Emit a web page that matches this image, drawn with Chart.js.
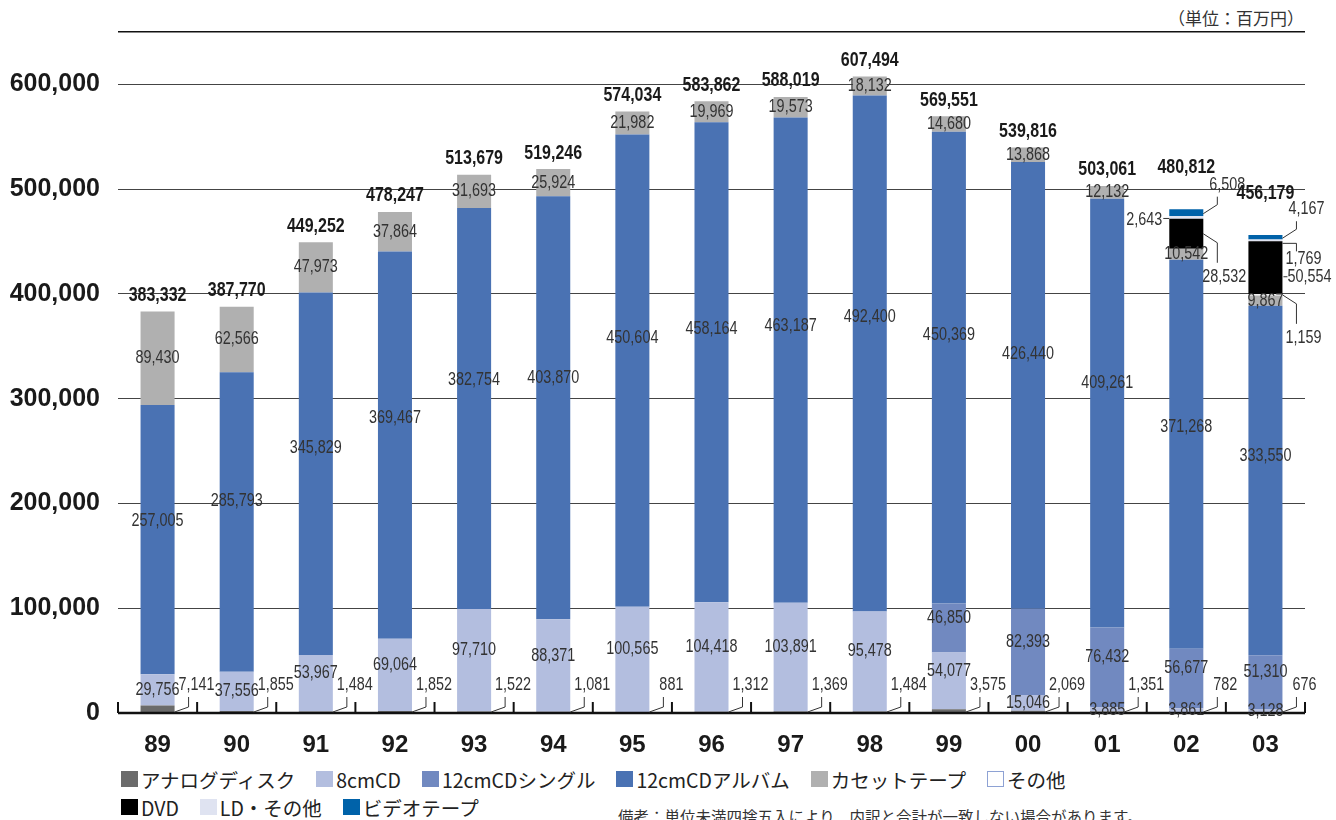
<!DOCTYPE html>
<html lang="ja">
<head>
<meta charset="utf-8">
<title>音楽ソフト生産金額の推移</title>
<script src="https://cdn.jsdelivr.net/npm/chart.js@4.4.1/dist/chart.umd.min.js"></script>
<style>
  body { margin:0; background:#fff; width:1336px; height:820px; overflow:hidden; position:relative;
         font-family:"Noto Sans CJK JP", sans-serif; color:#222; }
  #wrap { position:absolute; left:0; top:0; width:1336px; height:760px; }
  .unit { position:absolute; right:32px; top:5px; font-size:17px; color:#333; }
  .legend { position:absolute; left:121px; top:767px; }
  .lrow { display:flex; align-items:center; height:24px; margin-bottom:4px; }
  .item { display:flex; align-items:center; margin-right:21px; font-size:19.5px; white-space:nowrap; }
  .box { width:17px; height:16px; margin-right:3px; box-sizing:border-box; }
  .note { position:absolute; left:618px; top:805px; font-size:15.5px; color:#333; white-space:nowrap; }
</style>
</head>
<body>
<div class="unit">（単位：百万円）</div>
<div id="wrap"><canvas id="chart"></canvas></div>
<div class="legend" id="legend"></div>
<div class="note">備考：単位未満四捨五入により、内訳と合計が一致しない場合があります。</div>
<script>
// --- datos (百万円) ---
const YEARS    = ['89','90','91','92','93','94','95','96','97','98','99','00','01','02','03'];
const ANALOG   = [7141, 1855, 1484, 1852, 1522, 1081, 881, 1312, 1369, 1484, 3575, 2069, 1351, 782, 676];
const CD8      = [29756, 37556, 53967, 69064, 97710, 88371, 100565, 104418, 103891, 95478, 54077, 15046, 3885, 3861, 3128];
const CD12S    = [0, 0, 0, 0, 0, 0, 0, 0, 0, 0, 46850, 82393, 76432, 56677, 51310];
const CD12A    = [257005, 285793, 345829, 369467, 382754, 403870, 450604, 458164, 463187, 492400, 450369, 426440, 409261, 371268, 333550];
const CASSETTE = [89430, 62566, 47973, 37864, 31693, 25924, 21982, 19969, 19573, 18132, 14680, 13868, 12132, 10542, 9867];
const OTHER    = [0, 0, 0, 0, 0, 0, 0, 0, 0, 0, 0, 0, 0, 0, 1159];
const DVD      = [0, 0, 0, 0, 0, 0, 0, 0, 0, 0, 0, 0, 0, 28532, 50554];
const LD       = [0, 0, 0, 0, 0, 0, 0, 0, 0, 0, 0, 0, 0, 2643, 1769];
const VIDEO    = [0, 0, 0, 0, 0, 0, 0, 0, 0, 0, 0, 0, 0, 6508, 4167];
const TOTALS   = [383332, 387770, 449252, 478247, 513679, 519246, 574034, 583862, 588019, 607494, 569551, 539816, 503061, 480812, 456179];
const Y_TICKS  = [0, 100000, 200000, 300000, 400000, 500000, 600000];
const Y_MAX    = 650000;

// series: nombre, datos, color, tipo de etiqueta
const SERIES = [
  { name:'アナログディスク', data:ANALOG,   color:'#6b6b6b', kind:'analog' },
  { name:'8cmCD',          data:CD8,      color:'#b3bedf', kind:'inside', lift:10 },
  { name:'12cmCDシングル',   data:CD12S,    color:'#7189c0', kind:'inside', lift:10 },
  { name:'12cmCDアルバム',   data:CD12A,    color:'#4a72b3', kind:'inside', frac:0.57 },
  { name:'カセットテープ',     data:CASSETTE, color:'#b0b0b0', kind:'inside' },
  { name:'その他',           data:OTHER,    color:'#ffffff', kind:'callout', border:'#8ea2d4' },
  { name:'DVD',            data:DVD,      color:'#000000', kind:'callout' },
  { name:'LD・その他',        data:LD,       color:'#dfe3f1', kind:'callout' },
  { name:'ビデオテープ',       data:VIDEO,    color:'#0062a9', kind:'callout' },
];

// forma del rótulo con línea para las barras 02 (13) y 03 (14)
const CALLOUT_SHAPE = {
  'その他':      { 14:'down' },
  'DVD':        { 13:'down', 14:'right' },
  'LD・その他':   { 13:'left', 14:'hook' },
  'ビデオテープ':  { 13:'up',   14:'up' },
};

// no hay fuente "Narrow": se comprime Liberation Sans en horizontal
const NUM_FONT = '18px "Liberation Sans", Arial, sans-serif';
const SUM_FONT = 'bold 20px "Liberation Sans", Arial, sans-serif';
const SQUEEZE  = 0.8;
const fmt = v => v.toLocaleString('en-US');

function poly(ctx, pts){
  ctx.beginPath();
  ctx.moveTo(pts[0][0], pts[0][1]);
  for (let k = 1; k < pts.length; k++) ctx.lineTo(pts[k][0], pts[k][1]);
  ctx.stroke();
}

function narrowText(ctx, txt, x, y, align){
  ctx.save();
  ctx.translate(x, y);
  ctx.scale(SQUEEZE, 1);
  ctx.textAlign = align;
  ctx.fillText(txt, 0, 0);
  ctx.restore();
}

// eje x: línea gruesa y marcas entre categorías
const axisPlugin = {
  id:'baseAxis',
  afterDatasetsDraw(chart){
    const {ctx, chartArea, scales:{x, y}} = chart;
    const y0 = y.getPixelForValue(0);
    const step = x.getPixelForValue(1) - x.getPixelForValue(0);
    ctx.save();
    ctx.strokeStyle = '#111';
    ctx.lineWidth = 2.5;
    poly(ctx, [[chartArea.left, y0], [chartArea.right, y0]]);
    ctx.lineWidth = 2;
    for (let i = 0; i <= YEARS.length; i++) {
      const bx = x.getPixelForValue(i) - step / 2;
      poly(ctx, [[bx, y0], [bx, y0 - 11]]);
    }
    ctx.restore();
  }
};

// rótulos de segmentos y totales
const labelPlugin = {
  id:'segLabels',
  afterDatasetsDraw(chart){
    const {ctx, scales:{y}} = chart;
    const y0 = y.getPixelForValue(0);
    ctx.save();
    ctx.font = NUM_FONT;
    ctx.fillStyle = '#333';
    ctx.strokeStyle = '#333';
    ctx.lineWidth = 1;
    ctx.textBaseline = 'middle';
    chart.data.datasets.forEach((ds, di) => {
      const meta = chart.getDatasetMeta(di);
      meta.data.forEach((bar, i) => {
        const v = ds.data[i];
        if (!v) return;
        const p = bar.getProps(['x','y','base','width'], true);
        const R = p.x + p.width / 2, L = p.x - p.width / 2;
        const mid = (p.y + p.base) / 2;
        const txt = fmt(v);
        if (ds.kind === 'inside') {
          const h = p.base - p.y;
          let ly = p.base - h * (ds.frac || 0.5);
          if (ds.lift && h > 40) ly -= ds.lift;
          narrowText(ctx, txt, p.x, ly, 'center');
        } else if (ds.kind === 'analog') {
          poly(ctx, [[R, y0 - 1], [R + 14, y0 - 6], [R + 14, y0 - 16]]);
          narrowText(ctx, txt, R + 22, y0 - 28, 'center');
        } else {
          const shape = (CALLOUT_SHAPE[ds.label] || {})[i];
          if (shape === 'up') {
            poly(ctx, [[R, mid + 1], [R + 14, mid - 8], [R + 14, mid - 16]]);
            narrowText(ctx, txt, R + 24, mid - 28, 'center');
          } else if (shape === 'down') {
            poly(ctx, [[R, mid], [R + 14, mid + 9], [R + 14, mid + 29]]);
            narrowText(ctx, txt, R + 21, mid + 43, 'center');
          } else if (shape === 'left') {
            poly(ctx, [[L - 6, mid + 1], [L, mid + 1]]);
            narrowText(ctx, txt, L - 7, mid + 3, 'right');
          } else if (shape === 'right') {
            poly(ctx, [[R + 1, mid + 9], [R + 5, mid + 9]]);
            narrowText(ctx, txt, R + 5, mid + 9, 'left');
          } else if (shape === 'hook') {
            poly(ctx, [[R, mid + 3], [R + 14, mid + 3], [R + 14, mid + 11]]);
            narrowText(ctx, txt, R + 21, mid + 19, 'center');
          }
        }
      });
    });
    // totales encima de cada barra
    const xs = chart.scales.x;
    ctx.font = SUM_FONT;
    ctx.fillStyle = '#1a1a1a';
    TOTALS.forEach((t, i) => {
      const top = y.getPixelForValue(t);
      const off = VIDEO[i] ? 42 : 16;
      narrowText(ctx, fmt(t), xs.getPixelForValue(i), top - off, 'center');
    });
    ctx.restore();
  }
};

const ctx = document.getElementById('chart');
const chart = new Chart(ctx, {
  type:'bar',
  data:{
    labels: YEARS,
    datasets: SERIES.map(s => ({
      label: s.name,
      data: s.data,
      kind: s.kind,
      frac: s.frac,
      lift: s.lift,
      backgroundColor: s.color,
      borderWidth: 0,
      categoryPercentage: 1,
      barPercentage: 0.43,
    }))
  },
  options:{
    responsive:true,
    maintainAspectRatio:false,
    animation:false,
    layout:{ padding:{ left:0, right:31, top:32, bottom:7 } },
    plugins:{ legend:{ display:false }, tooltip:{ enabled:false } },
    scales:{
      x:{
        stacked:true,
        grid:{ display:false },
        border:{ display:false },
        ticks:{ color:'#1a1a1a', padding:10, font:{ family:'"Liberation Sans", Arial, sans-serif', size:24, weight:'bold' } },
        afterFit(s){ s.height = 40; s.paddingLeft = 0; s.paddingRight = 0; }
      },
      y:{
        stacked:true,
        min:0,
        max:Y_MAX,
        afterBuildTicks(s){ s.ticks = Y_TICKS.concat([Y_MAX]).map(v => ({ value:v })); },
        grid:{
          drawTicks:false,
          color: c => c.tick && c.tick.value === Y_MAX ? '#111' : '#444',
          lineWidth: c => c.tick && c.tick.value === Y_MAX ? 1.5 : 1.1,
        },
        border:{ display:false },
        ticks:{
          padding:18,
          color:'#1a1a1a',
          font:{ family:'"Liberation Sans", Arial, sans-serif', size:25, weight:'bold' },
          callback: v => Y_TICKS.includes(v) ? fmt(v) : ''
        },
        afterFit(s){ s.width = 118; s.paddingTop = 0; s.paddingBottom = 0; }
      }
    }
  },
  plugins:[axisPlugin, labelPlugin]
});

// leyenda en HTML (2 filas como el original)
const legendEl = document.getElementById('legend');
[SERIES.slice(0, 6), SERIES.slice(6)].forEach(group => {
  const row = document.createElement('div');
  row.className = 'lrow';
  group.forEach(s => {
    const it = document.createElement('div');
    it.className = 'item';
    const bx = document.createElement('span');
    bx.className = 'box';
    bx.style.background = s.color;
    if (s.border) bx.style.border = '1.5px solid ' + s.border;
    it.appendChild(bx);
    it.appendChild(document.createTextNode(s.name));
    row.appendChild(it);
  });
  legendEl.appendChild(row);
});
</script>
</body>
</html>
